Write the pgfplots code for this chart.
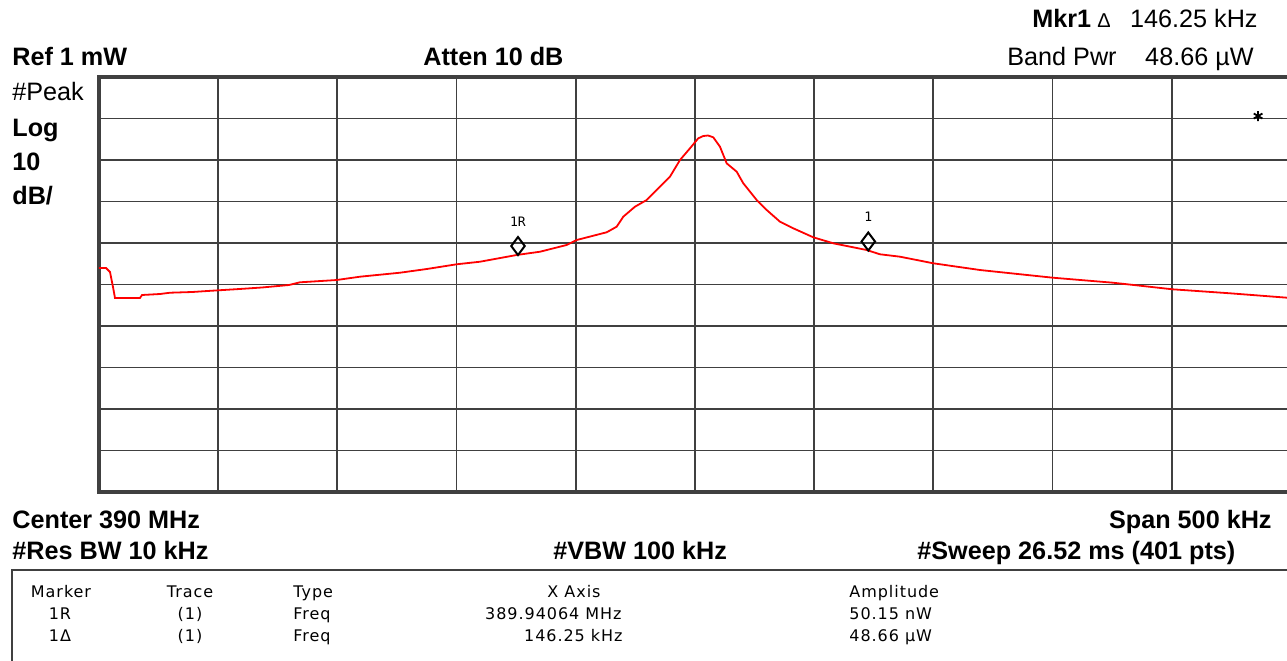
\documentclass[border=0pt]{standalone}
\usepackage{pgfplots}
\pgfplotsset{compat=1.18}
\usepackage{fontspec}
\setmainfont{Liberation Sans}
\newfontfamily\tabfont[LetterSpace=6]{DejaVu Sans}
\newfontfamily\mkfont{DejaVu Sans Mono}
\definecolor{gridc}{RGB}{64,64,64}
\pgfplotstableread{
x y
-250.00 -46.02
-247.06 -46.02
-245.39 -46.99
-244.13 -50.60
-243.29 -53.25
-232.80 -53.25
-231.96 -52.53
-224.41 -52.29
-220.22 -51.98
-210.99 -51.81
-201.34 -51.45
-190.85 -51.08
-181.63 -50.72
-170.30 -50.12
-165.69 -49.47
-150.29 -48.92
-140.52 -48.12
-123.74 -47.16
-112.54 -46.27
-99.96 -45.13
-90.18 -44.51
-74.79 -42.89
-65.02 -42.10
-53.82 -40.48
-49.62 -39.28
-39.85 -37.83
-37.04 -37.42
-32.85 -36.07
-30.08 -33.66
-25.17 -31.25
-20.26 -29.64
-15.39 -26.82
-10.49 -24.02
-6.29 -20.00
-2.10 -17.18
1.38 -14.77
3.48 -14.22
5.45 -14.10
7.67 -14.53
10.48 -16.80
13.29 -20.80
17.49 -22.82
20.26 -25.61
25.88 -29.64
30.08 -32.05
35.65 -34.87
41.23 -36.46
49.62 -38.63
58.01 -40.07
72.01 -41.69
77.60 -42.72
85.99 -43.30
99.96 -44.89
119.54 -46.51
150.04 -48.36
175.34 -49.57
200.38 -51.16
224.41 -52.12
248.32 -53.18
250.00 -53.37
}\trace
\begin{document}
\begin{tikzpicture}
\useasboundingbox (0,0) rectangle (643.5pt,330pt);
\begin{axis}[at={(49.5pt,84pt)}, anchor=south west, scale only axis,
  width=596pt, height=207.5pt,
  xmin=-250, xmax=250, ymin=-100, ymax=0,
  xtick={-250,-200,...,250}, ytick={-100,-90,...,0},
  grid=major, grid style={gridc, line width=0.9pt},
  axis line style={gridc, line width=1.6pt},
  major tick length=0pt, xticklabels={}, yticklabels={}]
\addplot[red, line width=0.9pt] table {\trace};
\addplot[only marks, mark=diamond, mark size=4.5pt,
  mark options={black, line width=1pt, fill=white, yshift=4.5pt}]
  coordinates {(-74.25,-42.9) (72.69,-41.81)};
\addplot[only marks, mark=asterisk, mark size=2.5pt,
  mark options={black, line width=0.9pt}] coordinates {(236.2,-9.4)};
\node[font=\mkfont\fontsize{6.5}{7}\selectfont, yshift=16.5pt] at (axis cs:-74.25,-42.9) {1R};
\node[font=\mkfont\fontsize{6.5}{7}\selectfont, yshift=17pt] at (axis cs:72.69,-41.81) {1};
\end{axis}
\begin{scope}[x=0.5pt, y=-0.5pt, shift={(0,330pt)}]
\tikzset{t/.style={inner sep=0pt, font=\fontsize{12.6}{15}\selectfont},
  b/.style={inner sep=0pt, font=\fontsize{12.6}{15}\selectfont\bfseries},
  s/.style={inner sep=0pt, font=\tabfont\fontsize{8}{10}\selectfont}}
\node[b, anchor=base west] at (12,66) {Ref 1 mW};
\node[b, anchor=base west] at (423,66) {Atten 10 dB};
\node[b, anchor=base west] at (1032,28) {Mkr1};
\node[inner sep=0pt, font=\fontsize{10}{11}\selectfont, anchor=base west] at (1097,28) {Δ};
\node[t, anchor=base east] at (1258,28) {146.25 kHz};
\node[t, anchor=base west] at (1007,66) {Band Pwr};
\node[t, anchor=base east] at (1254,66) {48.66 µW};
\node[t, anchor=base west] at (12,101) {\#Peak};
\node[b, anchor=base west] at (12,137) {Log};
\node[b, anchor=base west] at (12,171) {10};
\node[b, anchor=base west] at (12,205) {dB/};
\node[b, anchor=base west] at (12,528) {Center 390 MHz};
\node[b, anchor=base east] at (1272,528) {Span 500 kHz};
\node[b, anchor=base west] at (12,559) {\#Res BW 10 kHz};
\node[b, anchor=base west] at (553,559) {\#VBW 100 kHz};
\node[b, anchor=base west] at (917,559) {\#Sweep 26.52 ms (401 pts)};
\draw[gridc, line width=1pt] (12,700) -- (12,570) -- (1300,570);
\node[s, anchor=base] at (61,597) {Marker};
\node[s, anchor=base] at (60,619) {1R};
\node[s, anchor=base] at (60,641) {1Δ};
\node[s, anchor=base] at (190,597) {Trace};
\node[s, anchor=base] at (190,619) {(1)};
\node[s, anchor=base] at (190,641) {(1)};
\node[s, anchor=base west] at (293,597) {Type};
\node[s, anchor=base west] at (293,619) {Freq};
\node[s, anchor=base west] at (293,641) {Freq};
\node[s, anchor=base] at (574,597) {X Axis};
\node[s, anchor=base east] at (622,619) {389.94064 MHz};
\node[s, anchor=base east] at (623,641) {146.25 kHz};
\node[s, anchor=base west] at (849,597) {Amplitude};
\node[s, anchor=base west] at (849,619) {50.15 nW};
\node[s, anchor=base west] at (849,641) {48.66 µW};
\end{scope}
\end{tikzpicture}
\end{document}
